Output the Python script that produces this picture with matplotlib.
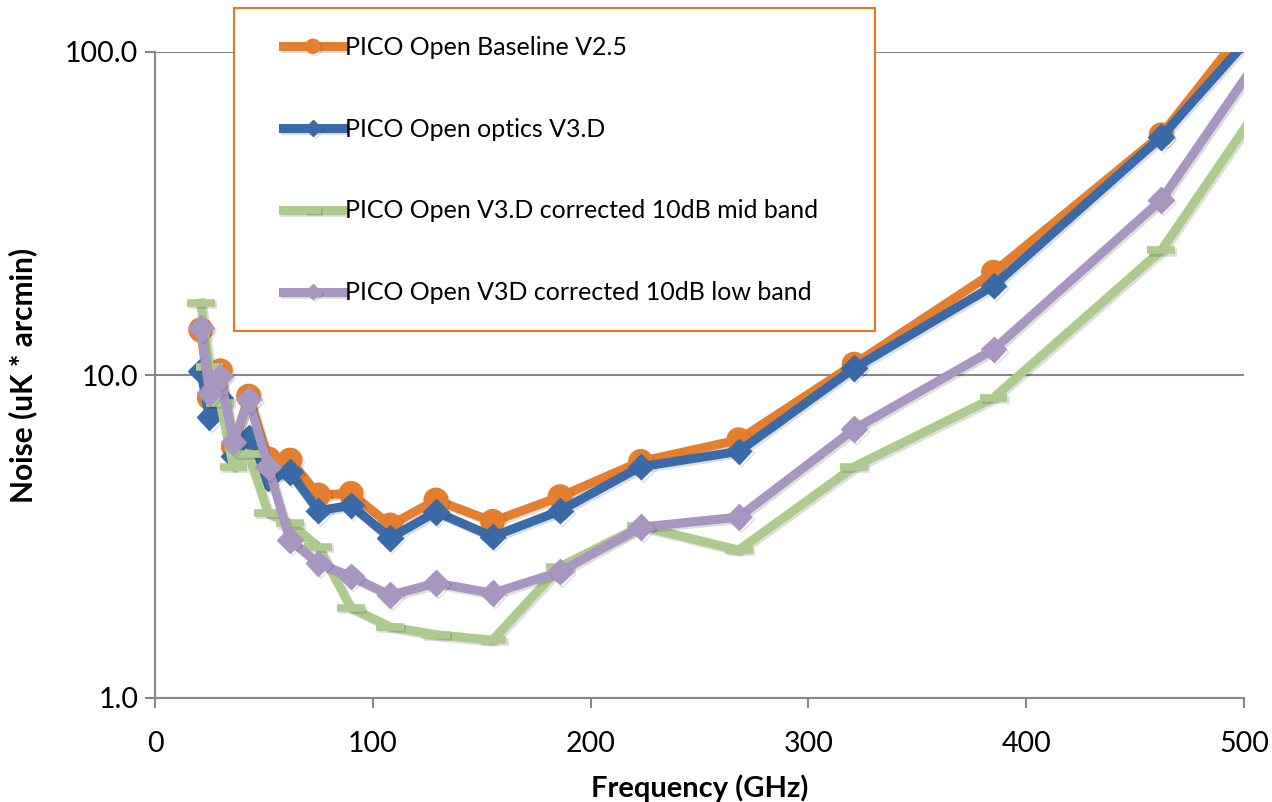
import numpy as np
import matplotlib.pyplot as plt
import matplotlib.patheffects as pe
from matplotlib.patches import Rectangle
from matplotlib.ticker import FixedLocator, FormatStrFormatter, NullLocator

plt.rcParams['font.family'] = ['Lato', 'DejaVu Sans']

# Band centres (GHz)
freq = [21, 25, 30, 36, 43, 52, 62, 75, 90, 108, 129, 155, 186, 223, 268, 321, 385, 462, 555]

# Noise per band (uK * arcmin)
baseline_v25 = [13.8, 8.5, 10.3, 6.0, 8.6, 5.5, 5.45, 4.25, 4.3, 3.43, 4.1, 3.52, 4.2, 5.4, 6.3, 10.8, 20.8, 55.4, 346]
optics_v3d = [10.3, 7.4, 8.5, 5.6, 6.4, 4.8, 5.0, 3.8, 3.95, 3.13, 3.77, 3.16, 3.8, 5.2, 5.8, 10.5, 18.9, 54.6, 276]
mid_band = [16.7, 10.6, 8.2, 5.2, 5.7, 3.73, 3.47, 2.94, 1.9, 1.66, 1.57, 1.51, 2.55, 3.4, 2.87, 5.2, 8.5, 24.3, 201]
low_band = [14.0, 8.8, 9.9, 6.2, 8.4, 5.2, 3.08, 2.61, 2.38, 2.08, 2.27, 2.11, 2.46, 3.38, 3.63, 6.8, 12.0, 34.8, 283]

labels = ['PICO Open Baseline V2.5',
          'PICO Open optics V3.D',
          'PICO Open V3.D corrected 10dB mid band',
          'PICO Open V3D corrected 10dB low band']

W, H = 1272, 802
fig = plt.figure(figsize=(W / 100, H / 100), dpi=100)
ax = fig.add_axes([155 / W, 1 - 698 / H, (1244 - 155) / W, (698 - 52) / H])

# soft drop shadow like the spreadsheet original
shadow = [pe.SimpleLineShadow(offset=(1.5, -1.5), alpha=0.13, shadow_color='black'), pe.Normal()]

lw = 6.5
ax.plot(freq, baseline_v25, color='#E37F2E', lw=lw, marker='o', ms=17,
        label=labels[0], solid_joinstyle='round', zorder=3, path_effects=shadow)
ax.plot(freq, optics_v3d, color='#3A6BA8', lw=lw, marker='D', ms=13,
        label=labels[1], solid_joinstyle='round', zorder=4, path_effects=shadow)
ax.plot(freq, mid_band, color='#AFCA8E', lw=lw, marker='_', ms=20, mew=5.5,
        label=labels[2], solid_joinstyle='round', zorder=5, path_effects=shadow)
ax.plot(freq, low_band, color='#A696C0', lw=lw, marker='D', ms=13,
        label=labels[3], solid_joinstyle='round', zorder=6, path_effects=shadow)

ax.set_yscale('log')
ax.set_xlim(0, 500)
ax.set_ylim(1, 100)
ax.yaxis.set_major_locator(FixedLocator([1, 10, 100]))
ax.yaxis.set_major_formatter(FormatStrFormatter('%.1f'))
ax.yaxis.set_minor_locator(NullLocator())
ax.set_xticks([0, 100, 200, 300, 400, 500])

ax.grid(axis='y', color='#888888', lw=1.5)
ax.set_axisbelow(True)
for s in ['top', 'right']:
    ax.spines[s].set_visible(False)
for s in ['left', 'bottom']:
    ax.spines[s].set_color('#888888')
    ax.spines[s].set_linewidth(1.5)
ax.tick_params(axis='both', colors='#888888', labelcolor='black', labelsize=20.5,
               length=7, width=1.5, direction='out')
ax.tick_params(axis='x', pad=17)
ax.tick_params(axis='y', pad=5)

ax.set_xlabel('Frequency (GHz)', fontsize=21, fontweight='bold', labelpad=12)
ax.set_ylabel('Noise (uK * arcmin)', fontsize=21.5, fontweight='bold', labelpad=20)

# legend box (drawn separately so the padding matches the original)
fig.patches.append(Rectangle((234 / W, 1 - 331 / H), (875 - 234) / W, (331 - 8) / H,
                             transform=fig.transFigure, facecolor='white',
                             edgecolor='#F07522', lw=1.5, zorder=10))
leg = fig.legend(loc='upper left', bbox_to_anchor=(283 / W, 1 - 36 / H),
                 borderaxespad=0, borderpad=0, frameon=False,
                 fontsize=18, labelspacing=2.35, handlelength=2.4,
                 handletextpad=0.08, markerscale=0.6)
leg.set_zorder(11)

fig.savefig('out.png', dpi=100)
